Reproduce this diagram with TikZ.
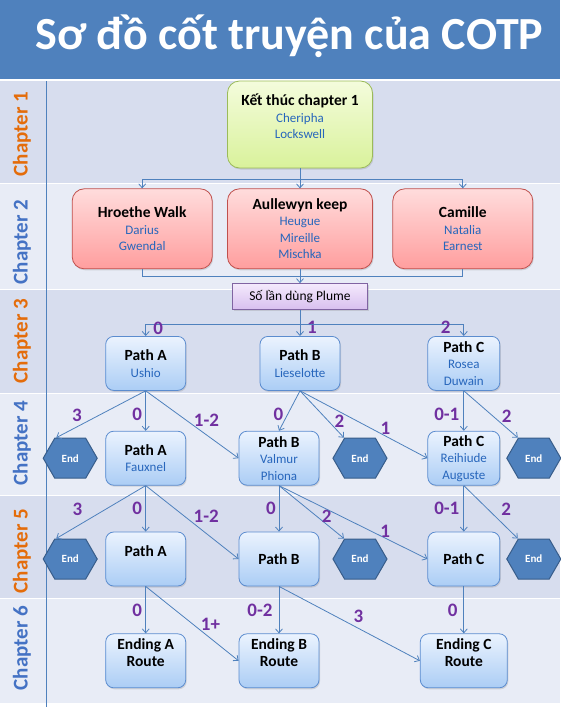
\documentclass[tikz,border=0pt]{standalone}
\usepackage{fontspec}
\setmainfont{Carlito}
\usetikzlibrary{arrows.meta,positioning,calc,shapes.symbols,shadows}

\definecolor{titleblue}{HTML}{4F81BD}
\definecolor{banddark}{HTML}{D7DDEE}
\definecolor{bandlight}{HTML}{E8ECF6}
\definecolor{chorange}{HTML}{E46C0A}
\definecolor{chblue}{HTML}{4472C4}
\definecolor{linkblue}{HTML}{4F81BD}
\definecolor{namecol}{HTML}{2766BC}
\definecolor{numcol}{HTML}{7030A0}
\definecolor{greentop}{HTML}{F4FCDC}
\definecolor{greenbot}{HTML}{D9F29B}
\definecolor{greenline}{HTML}{9BBB59}
\definecolor{redtop}{HTML}{FFDCDC}
\definecolor{redbot}{HTML}{FF9E9E}
\definecolor{redline}{HTML}{C0504D}
\definecolor{purptop}{HTML}{F4EAFC}
\definecolor{purpbot}{HTML}{D8BFEF}
\definecolor{purpline}{HTML}{8064A2}
\definecolor{bluetop}{HTML}{EBF3FE}
\definecolor{bluebot}{HTML}{ABCDF5}
\definecolor{blueline}{HTML}{5B8CCF}
\definecolor{hexfill}{HTML}{4F81BD}
\definecolor{hexline}{HTML}{385D8A}

\newcommand{\hd}[1]{{\fontsize{15.5}{17}\selectfont\bfseries\color{black}#1}}

\begin{document}
\begin{tikzpicture}[x=1pt,y=1pt]

\tikzset{every edge/.append style = {draw=linkblue, line width=0.8pt, >={Straight Barb[length=4pt,width=7pt]}}}
\tikzset{link/.style = {draw=linkblue, line width=0.8pt, >={Straight Barb[length=4pt,width=7pt]}}}
\tikzstyle{box} = [rectangle, rounded corners=8pt, line width=0.8pt, align=center, inner sep=0pt, text=namecol, font=\fontsize{13}{16.5}\selectfont, drop shadow={shadow xshift=1pt, shadow yshift=-1.5pt, opacity=0.25}]
\tikzstyle{startbox} = [box, draw=greenline, top color=greentop, bottom color=greenbot, rounded corners=12pt, minimum width=145pt, minimum height=87pt]
\tikzstyle{keepbox} = [box, draw=redline, top color=redtop, bottom color=redbot, rounded corners=12pt, minimum width=140pt, minimum height=80pt]
\tikzstyle{plumebox} = [box, draw=purpline, top color=purptop, bottom color=purpbot, rounded corners=0pt, minimum width=135pt, minimum height=26pt, text=black, font=\fontsize{13.5}{16}\selectfont]
\tikzstyle{pathbox} = [box, draw=blueline, top color=bluetop, bottom color=bluebot, minimum width=80pt, minimum height=54pt]
\tikzstyle{endhex} = [signal, signal to=east and west, signal pointer angle=120, fill=hexfill, draw=hexline, line width=1pt, text=white, font=\fontsize{11}{12}\selectfont\bfseries, minimum width=54pt, minimum height=40pt, inner sep=0pt]
\tikzstyle{chap} = [rotate=90, font=\fontsize{21}{22}\selectfont\bfseries]
\tikzstyle{num} = [font=\fontsize{19}{19}\selectfont\bfseries, text=numcol, inner sep=0pt]

\useasboundingbox (0,0) rectangle (560,-707);

% title and chapter bands
\fill[titleblue] (0,0) rectangle (560,-79);
\fill[banddark]  (0,-81)  rectangle (560,-183);
\fill[bandlight] (0,-184) rectangle (560,-289);
\fill[banddark]  (0,-290) rectangle (560,-393);
\fill[bandlight] (0,-394) rectangle (560,-495);
\fill[banddark]  (0,-496) rectangle (560,-598);
\fill[bandlight] (0,-599) rectangle (560,-703);
\draw[linkblue, line width=0.8pt] (46,-81) -- (46,-707);

\node[font=\fontsize{46}{50}\selectfont\bfseries, text=white, anchor=base] (title) at (289.5,-49.5) {Sơ đồ cốt truyện của COTP};

\node[chap, text=chorange] (ch1) at (22,-134) {Chapter 1};
\node[chap, text=chblue]   (ch2) at (22,-242) {Chapter 2};
\node[chap, text=chorange] (ch3) at (22,-341) {Chapter 3};
\node[chap, text=chblue]   (ch4) at (22,-443) {Chapter 4};
\node[chap, text=chorange] (ch5) at (22,-551) {Chapter 5};
\node[chap, text=chblue]   (ch6) at (22,-648) {Chapter 6};

% nodes
\node[startbox] (start) at (300,-124.5) {\hd{Kết thúc chapter 1}\\Cheripha\\Lockswell\\\mbox{}};

\node[keepbox, minimum width=145pt] (aullewyn) [below=20pt of start]      {\hd{Aullewyn keep}\\Heugue\\Mireille\\Mischka};
\node[keepbox] (hroethe)  [left=14.5pt of aullewyn]  {\hd{Hroethe Walk}\\Darius\\Gwendal};
\node[keepbox] (camille)  [right=19.5pt of aullewyn] {\hd{Camille}\\Natalia\\Earnest};
\node[plumebox] (plume)   [below=14pt of aullewyn]   {Số lần dùng Plume};

\node[pathbox] (pB3) [below=26pt of plume]  {\hd{Path B}\\Lieselotte};
\node[pathbox] (pA3) [left=73.5pt of pB3]   {\hd{Path A}\\Ushio};
\node[pathbox, minimum width=72pt] (pC3) [right=87pt of pB3] {\hd{Path C}\\Rosea\\Duwain};

\node[pathbox] (pA4) [below=40pt of pA3]   {\hd{Path A}\\Fauxnel};
\node[pathbox] (pB4) [right=52.5pt of pA4] {\hd{Path B}\\Valmur\\Phiona};
\node[pathbox, minimum width=72pt] (pC4) [below=40pt of pC3] {\hd{Path C}\\Reihiude\\Auguste};
\node[endhex] (end41) [left=7.5pt of pA4] {End};
\node[endhex] (end42) [right=13pt of pB4] {End};
\node[endhex] (end43) [right=6pt of pC4]  {End};

\node[pathbox] (pA5) [below=46pt of pA4] {\hd{Path A}\\\mbox{}};
\node[pathbox] (pB5) [below=46pt of pB4] {\hd{Path B}};
\node[pathbox, minimum width=72pt] (pC5) [below=46pt of pC4] {\hd{Path C}};
\node[endhex] (end51) [left=7.5pt of pA5] {End};
\node[endhex] (end52) [right=13pt of pB5] {End};
\node[endhex] (end53) [right=6pt of pC5]  {End};

\node[pathbox] (eA) [below=47pt of pA5] {\hd{Ending A}\\\hd{Route}\\\mbox{}};
\node[pathbox] (eB) [below=47pt of pB5] {\hd{Ending B}\\\hd{Route}\\\mbox{}};
\node[pathbox, minimum width=87pt] (eC) [below=47pt of pC5] {\hd{Ending C}\\\hd{Route}\\\mbox{}};

% chapter 1 to 3
\coordinate (split1) at ($(start.south)+(0,-11)$);
\coordinate (join2)  at ($(plume.north)+(0,7)$);
\coordinate (split3) at ($(plume.south)+(0,-14)$);

\draw[link]    (start.south) -- (split1);
\draw[link,->] (split1) -| (hroethe.north);
\draw[link,->] (split1) -- (aullewyn.north);
\draw[link,->] (split1) -| (camille.north);
\draw[link]    (hroethe.south) |- (join2);
\draw[link]    (camille.south) |- (join2);
\draw[link,->] (aullewyn.south) -- (plume.north);
\draw[link]    (plume.south) -- (split3);
\draw[link,->] (split3) -| node[num, pos=0.667, xshift=12.5pt] {0} (pA3.north);
\draw[link,->] (split3) -- node[num, pos=0.25,  xshift=12pt]   {1} (pB3.north);
\draw[link,->] (split3) -| node[num, pos=0.625, xshift=-18pt]  {2} (pC3.north);

% chapter 3 to 4
\draw (pA3.south) edge[->] node[num, pos=0.533, xshift=-21pt]  {3}   ($(end41.north)+(-14,0)$);
\draw (pA3.south) edge[->] node[num, pos=0.6,   xshift=-8.5pt] {0}   (pA4.north);
\draw (pA3.south) edge[->] node[num, pos=0.433, xshift=20.5pt] {1-2} (pB4.west);
\draw (pB3.south) edge[->] node[num, pos=0.6,   xshift=-9pt]   {0}   (pB4.north);
\draw (pB3.south) edge[->] node[num, pos=0.644, xshift=11pt]   {2}   ($(end42.north)+(-16,0)$);
\draw (pB3.south) edge[->] node[num, pos=0.552, xshift=15pt]   {1}   (pC4.west);
\draw (pC3.south) edge[->] node[num, pos=0.6,   xshift=-17pt]  {0-1} (pC4.north);
\draw (pC3.south) edge[->] node[num, pos=0.533, xshift=14pt]   {2}   ($(end43.north)+(-16,0)$);

% chapter 4 to 5
\draw (pA4.south) edge[->] node[num, pos=0.451, xshift=-28pt]  {3}   ($(end51.north)+(-14,0)$);
\draw (pA4.south) edge[->] node[num, pos=0.5,   xshift=-8.5pt] {0}   (pA5.north);
\draw (pA4.south) edge[->] node[num, pos=0.414, xshift=22pt]   {1-2} (pB5.west);
\draw (pB4.south) edge[->] node[num, pos=0.5,   xshift=-8pt]   {0}   (pB5.north);
\draw (pB4.south) edge[->] node[num, pos=0.588, xshift=9.5pt]  {2}   ($(end52.north)+(-16,0)$);
\draw (pB4.south) edge[->] node[num, pos=0.621, xshift=14pt]   {1}   (pC5.west);
\draw (pC4.south) edge[->] node[num, pos=0.5,   xshift=-17pt]  {0-1} (pC5.north);
\draw (pC4.south) edge[->] node[num, pos=0.451, xshift=18pt]   {2}   ($(end53.north)+(-16,0)$);

% chapter 5 to 6
\draw (pA5.south) edge[->] node[num, pos=0.51,  xshift=-8.5pt] {0}   (eA.north);
\draw (pA5.south) edge[->] node[num, pos=0.503, xshift=18pt]   {1+}  (eB.west);
\draw (pB5.south) edge[->] node[num, pos=0.51,  xshift=-19pt]  {0-2} (eB.north);
\draw (pB5.south) edge[->] node[num, pos=0.408, xshift=22pt]   {3}   (eC.west);
\draw (pC5.south) edge[->] node[num, pos=0.51,  xshift=-11pt]  {0}   (eC.north);

\end{tikzpicture}
\end{document}
